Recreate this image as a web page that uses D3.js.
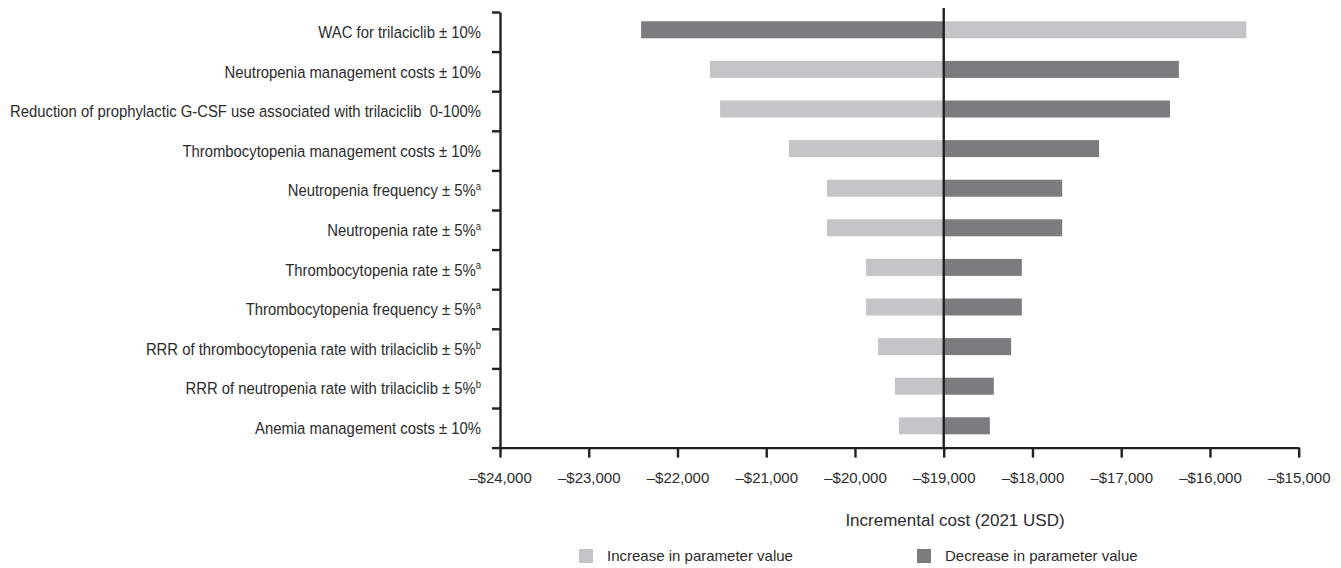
<!DOCTYPE html>
<html>
<head>
<meta charset="utf-8">
<script src="https://cdn.jsdelivr.net/npm/d3@7"></script>
<style>
  html, body { margin: 0; padding: 0; background: #fff; }
  svg { display: block; }
  text { font-family: "Liberation Sans Narrow", "Arial Narrow", "Liberation Sans", sans-serif; fill: #2b2b2b; }
</style>
</head>
<body>
<svg id="chart" width="1341" height="568"></svg>
<script>
// Parameters, top to bottom, with their optional footnote markers
const parameters = [
  "WAC for trilaciclib \u00b1 10%",
  "Neutropenia management costs \u00b1 10%",
  "Reduction of prophylactic G-CSF use associated with trilaciclib\u00a0 0-100%",
  "Thrombocytopenia management costs \u00b1 10%",
  "Neutropenia frequency \u00b1 5%",
  "Neutropenia rate \u00b1 5%",
  "Thrombocytopenia rate \u00b1 5%",
  "Thrombocytopenia frequency \u00b1 5%",
  "RRR of thrombocytopenia rate with trilaciclib \u00b1 5%",
  "RRR of neutropenia rate with trilaciclib \u00b1 5%",
  "Anemia management costs \u00b1 10%"
];
const footnotes = ["", "", "", "", "a", "a", "a", "a", "b", "b", ""];

// Incremental cost (2021 USD) when the parameter is increased / decreased
const increaseValues = [-15590, -21635, -21520, -20745, -20315, -20315, -19875, -19875, -19740, -19550, -19505];
const decreaseValues = [-22410, -16350, -16450, -17250, -17665, -17665, -18120, -18120, -18240, -18435, -18480];

const baseCase = -19000;
const xTicks = [-24000, -23000, -22000, -21000, -20000, -19000, -18000, -17000, -16000, -15000];

const seriesNames = ["Increase in parameter value", "Decrease in parameter value"];
const seriesColors = ["#c4c5c7", "#7b7c7e"];

const svg = d3.select("#chart");
const plotLeft = 500, plotRight = 1298.7, plotTop = 12, plotBottom = 447.6;
const barHeight = 17;

const x = d3.scaleLinear().domain([-24000, -15000]).range([plotLeft, plotRight]);
const y = d3.scaleBand().domain(parameters).range([plotTop, plotBottom]).padding(0);
const yEdges = d3.scaleLinear().domain([0, parameters.length]).range([plotTop, plotBottom]);

const fmt = v => "\u2013$" + d3.format(",")(Math.abs(v));

// Bars: one for each direction of change, anchored at the base case
const rows = parameters.map((p, i) => ({ p, inc: increaseValues[i], dec: decreaseValues[i] }));
const barY = d => y(d.p) + (y.bandwidth() - barHeight) / 2 - 2;

[["inc", 0], ["dec", 1]].forEach(([key, si]) => {
  svg.append("g").selectAll("rect").data(rows).join("rect")
    .attr("x", d => Math.min(x(d[key]), x(baseCase)))
    .attr("width", d => Math.abs(x(d[key]) - x(baseCase)))
    .attr("y", barY)
    .attr("height", barHeight)
    .attr("fill", seriesColors[si]);
});

// Base-case reference line
svg.append("line")
  .attr("x1", x(baseCase)).attr("x2", x(baseCase))
  .attr("y1", 8).attr("y2", plotBottom)
  .attr("stroke", "#231f20").attr("stroke-width", 2.4);

// Bottom axis
const xAxis = svg.append("g")
  .attr("transform", `translate(0,${plotBottom})`)
  .call(d3.axisBottom(x).tickValues(xTicks).tickFormat(fmt).tickSize(10).tickPadding(15).tickSizeOuter(0));
xAxis.select(".domain").attr("stroke", "#231f20").attr("stroke-width", 2.4);
xAxis.selectAll(".tick line").attr("stroke", "#231f20").attr("stroke-width", 2.4);
xAxis.selectAll(".tick text").attr("font-size", 15).attr("font-family", null).attr("fill", "#2b2b2b");

// Left axis with ticks between categories
const yAxis = svg.append("g")
  .attr("transform", `translate(${plotLeft},0)`)
  .call(d3.axisLeft(yEdges).tickValues(d3.range(parameters.length + 1)).tickFormat("").tickSize(8).tickSizeOuter(0));
yAxis.select(".domain").attr("stroke", "#231f20").attr("stroke-width", 2.4);
yAxis.selectAll(".tick line").attr("stroke", "#231f20").attr("stroke-width", 2.4);

// Category labels, slightly condensed
const labels = svg.append("g").selectAll("text").data(rows).join("text")
  .attr("transform", d => `translate(481,${y(d.p) + y.bandwidth() / 2 + 0.5}) scale(0.9,1)`)
  .attr("dy", "0.35em")
  .attr("text-anchor", "end")
  .attr("font-size", 16.5);
labels.append("tspan").text(d => d.p);
labels.append("tspan")
  .attr("font-size", 10.5)
  .attr("dy", "-0.6em")
  .text((d, i) => footnotes[i]);

// Axis title
svg.append("text")
  .attr("x", 955).attr("y", 526)
  .attr("text-anchor", "middle")
  .attr("font-size", 17)
  .text("Incremental cost (2021 USD)");

// Legend
const legendX = [579, 917];
const legend = svg.append("g").selectAll("g").data(seriesNames).join("g")
  .attr("transform", (d, i) => `translate(${legendX[i]},549)`);
legend.append("rect").attr("width", 14).attr("height", 14).attr("fill", (d, i) => seriesColors[i]);
legend.append("text").attr("x", 28).attr("y", 7).attr("dy", "0.35em").attr("font-size", 15).text(d => d);
</script>
</body>
</html>
